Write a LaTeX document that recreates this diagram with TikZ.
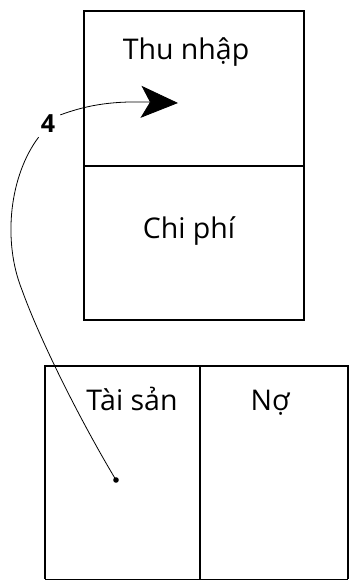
\documentclass[tikz,border=0pt]{standalone}
\usepackage{fontspec}
\setmainfont{Open Sans}
\usetikzlibrary{arrows.meta}
\begin{document}
\begin{tikzpicture}[x=1pt,y=-1pt,
  frame/.style={line width=2.8pt},
  divider/.style={line width=2pt},
  lbl/.style={font=\fontsize{28.5}{30}\selectfont, anchor=base, inner sep=0pt},
  num/.style={font=\fontsize{25}{28}\selectfont\bfseries, inner sep=0pt},
  link/.style={line width=0.8pt}]
\useasboundingbox (0,0) rectangle (349,581);
% top account (income / expense)
\draw[frame] (84,11) rectangle (304,320);
\draw[divider] (84,166) -- (304,166);
\node[lbl] (inc) at (186,59) {Thu nhập};
\node[lbl] (exp) at (189,238) {Chi phí};
% bottom account (assets / liabilities)
\draw[frame] (45,579) -- (45,366) -- (348,366) -- (348,579);
\draw[line width=1pt] (45,579) -- (348,579);
\draw[divider] (200,366) -- (200,579);
\node[lbl] (asset) at (132,410) {Tài sản};
\node[lbl] (liab) at (270,410) {Nợ};
% label 4 and connectors
\node[num] (four) at (48,124) {4};
\coordinate (tip) at (178,103);
\coordinate (dot) at (116,480);
\draw[link, -{Stealth[length=37pt,width=32pt,inset=9pt]}]
  (four.north east) ++(5,0) .. controls (90,104) and (115,101) .. (tip);
\draw[link] (four.south west) ++(-2,4) .. controls (10,175) and (2,240) .. (22,290)
  .. controls (40,340) and (80,420) .. (dot);
\fill (dot) circle (2.8);
\end{tikzpicture}
\end{document}
